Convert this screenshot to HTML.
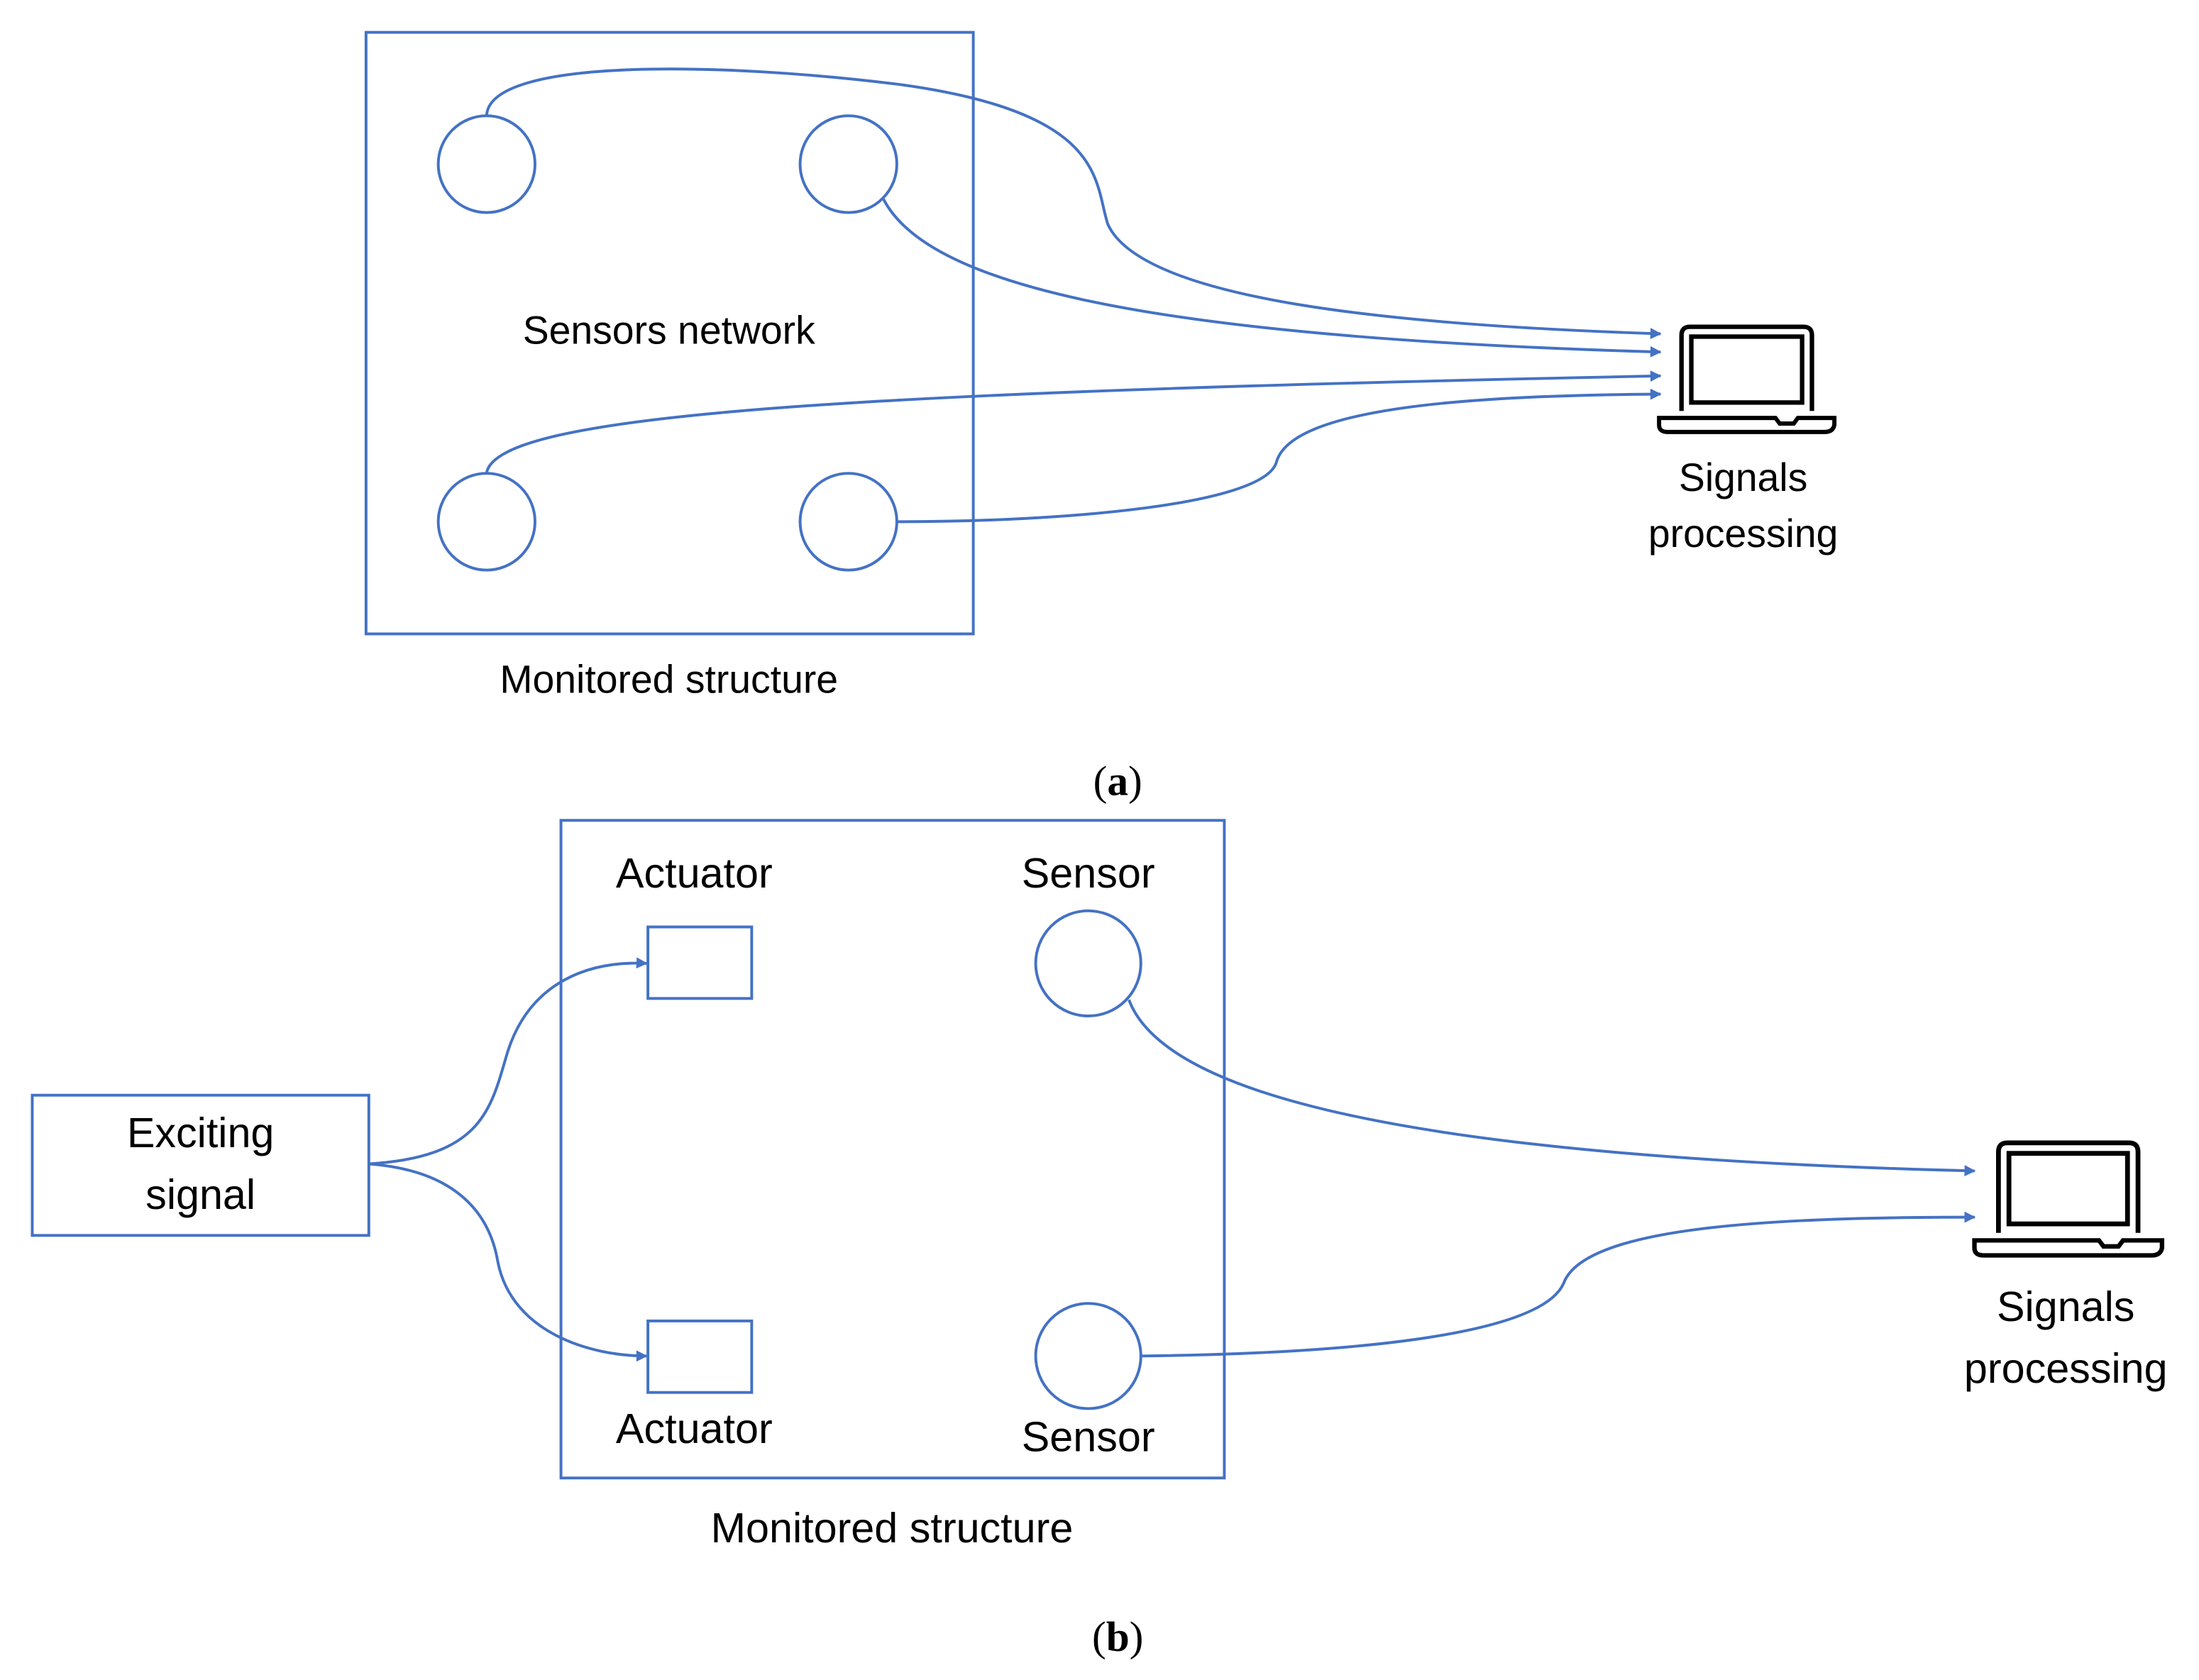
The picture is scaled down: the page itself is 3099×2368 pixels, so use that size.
<!DOCTYPE html>
<html><head><style>html,body{margin:0;padding:0;background:#fff}svg{display:block}</style></head>
<body>
<svg width="3099" height="2368" viewBox="0 0 1568 1198" xmlns="http://www.w3.org/2000/svg" font-family="Liberation Sans, sans-serif">
<defs>
<marker id="ar" viewBox="0 0 10 10" refX="9" refY="5" markerWidth="5" markerHeight="5" orient="auto" markerUnits="userSpaceOnUse"><path d="M0,0 L10,5 L0,10 z" fill="#4472C4"/></marker>
<marker id="ar2" viewBox="0 0 10 10" refX="9" refY="5" markerWidth="10" markerHeight="8" orient="auto" markerUnits="userSpaceOnUse"><path d="M0,0 L10,5 L0,10 z" fill="#4472C4"/></marker>
<g id="lap" fill="none" stroke="#000" stroke-width="3.2">
<path d="M0,60 V6 Q0,0 6,0 H87 Q93,0 93,6 V60"/>
<rect x="7" y="7" width="79" height="47"/>
<path d="M-16,65 H67 L70,69 H80 L83,65 H109 V70 Q108,75 102,75 H-10 Q-16,75 -16,70 Z" stroke-width="3"/>
</g>
</defs>
<g fill="none" stroke="#4472C4" stroke-width="2">
<!-- (a) -->
<rect x="261" y="23" width="433" height="429"/>
<circle cx="347" cy="117" r="34.5"/>
<circle cx="605" cy="117" r="34.5"/>
<circle cx="347" cy="372" r="34.5"/>
<circle cx="605" cy="372" r="34.5"/>
<path d="M347,82 C350,40 520,45 640,60 C790,80 780,130 790,160 C815,215 1000,232 1184,238" marker-end="url(#ar2)"/>
<path d="M630,142 C660,200 800,240 1184,251" marker-end="url(#ar2)"/>
<path d="M347,337 C355,295 600,280 1184,268" marker-end="url(#ar2)"/>
<path d="M640,372 C760,372 900,360 910,330 C920,290 1050,282 1184,281" marker-end="url(#ar2)"/>
<!-- (b) -->
<rect x="400" y="585" width="473" height="469"/>
<rect x="23" y="781" width="240" height="100"/>
<rect x="462" y="661" width="74" height="51"/>
<rect x="462" y="942" width="74" height="51"/>
<circle cx="776" cy="687" r="37.5"/>
<circle cx="776" cy="967" r="37.5"/>
<path d="M263,830 C345,825 350,790 362,750 C378,700 420,685 461,687" marker-end="url(#ar2)"/>
<path d="M263,830 C330,835 350,870 355,900 C365,950 420,967 461,967" marker-end="url(#ar2)"/>
<path d="M805,713 C830,780 1000,825 1408,835" marker-end="url(#ar2)"/>
<path d="M814,967 C980,965 1100,950 1115,915 C1130,875 1260,868 1408,868" marker-end="url(#ar2)"/>
</g>
<use href="#lap" x="1199" y="233"/>
<g transform="translate(1425,815) scale(1.07)"><use href="#lap"/></g>
<g fill="#000" text-anchor="middle" font-size="28">
<text x="477" y="245">Sensors network</text>
<text x="1243" y="350">Signals</text>
<text x="1243" y="390">processing</text>
<text x="477" y="494">Monitored structure</text>
<text x="797" y="567" font-family="Liberation Serif, serif" font-size="30">(<tspan font-weight="bold">a</tspan>)</text>
<text x="495" y="633" font-size="30">Actuator</text>
<text x="776" y="633" font-size="30">Sensor</text>
<text x="143" y="818" font-size="30">Exciting</text>
<text x="143" y="862" font-size="30">signal</text>
<text x="495" y="1029" font-size="30">Actuator</text>
<text x="776" y="1035" font-size="30">Sensor</text>
<text x="1473" y="942" font-size="30">Signals</text>
<text x="1473" y="986" font-size="30">processing</text>
<text x="636" y="1100" font-size="30">Monitored structure</text>
<text x="797" y="1177" font-family="Liberation Serif, serif" font-size="30">(<tspan font-weight="bold">b</tspan>)</text>
</g>
</svg>
</body></html>
